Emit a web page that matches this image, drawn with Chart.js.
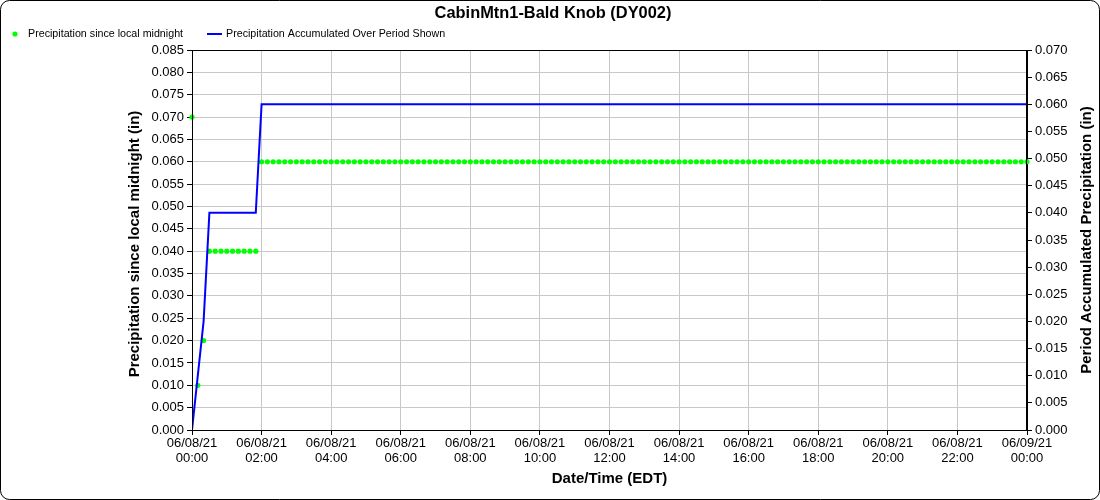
<!DOCTYPE html>
<html>
<head>
<meta charset="utf-8">
<script src="https://cdn.jsdelivr.net/npm/chart.js@4.4.0/dist/chart.umd.min.js"></script>
<style>
  body { margin: 0; background: #fff; }
  canvas { display: block; }
</style>
</head>
<body>
<canvas id="precipChart" width="1100" height="500"></canvas>
<script>
// minutes after 06/08/21 00:00 EDT, 10 minute readings
const minutes = [
    0,   10,   20,   30,   40,   50,   60,   70,   80,   90,  100,  110,
  120,  130,  140,  150,  160,  170,  180,  190,  200,  210,  220,  230,
  240,  250,  260,  270,  280,  290,  300,  310,  320,  330,  340,  350,
  360,  370,  380,  390,  400,  410,  420,  430,  440,  450,  460,  470,
  480,  490,  500,  510,  520,  530,  540,  550,  560,  570,  580,  590,
  600,  610,  620,  630,  640,  650,  660,  670,  680,  690,  700,  710,
  720,  730,  740,  750,  760,  770,  780,  790,  800,  810,  820,  830,
  840,  850,  860,  870,  880,  890,  900,  910,  920,  930,  940,  950,
  960,  970,  980,  990, 1000, 1010, 1020, 1030, 1040, 1050, 1060, 1070,
 1080, 1090, 1100, 1110, 1120, 1130, 1140, 1150, 1160, 1170, 1180, 1190,
 1200, 1210, 1220, 1230, 1240, 1250, 1260, 1270, 1280, 1290, 1300, 1310,
 1320, 1330, 1340, 1350, 1360, 1370, 1380, 1390, 1400, 1410, 1420, 1430,
 1440
];

// Precipitation since local midnight (in)
const sinceMidnight = [
  0.07, 0.01, 0.02, 0.04, 0.04, 0.04, 0.04, 0.04, 0.04, 0.04, 0.04, 0.04,
  0.06, 0.06, 0.06, 0.06, 0.06, 0.06, 0.06, 0.06, 0.06, 0.06, 0.06, 0.06,
  0.06, 0.06, 0.06, 0.06, 0.06, 0.06, 0.06, 0.06, 0.06, 0.06, 0.06, 0.06,
  0.06, 0.06, 0.06, 0.06, 0.06, 0.06, 0.06, 0.06, 0.06, 0.06, 0.06, 0.06,
  0.06, 0.06, 0.06, 0.06, 0.06, 0.06, 0.06, 0.06, 0.06, 0.06, 0.06, 0.06,
  0.06, 0.06, 0.06, 0.06, 0.06, 0.06, 0.06, 0.06, 0.06, 0.06, 0.06, 0.06,
  0.06, 0.06, 0.06, 0.06, 0.06, 0.06, 0.06, 0.06, 0.06, 0.06, 0.06, 0.06,
  0.06, 0.06, 0.06, 0.06, 0.06, 0.06, 0.06, 0.06, 0.06, 0.06, 0.06, 0.06,
  0.06, 0.06, 0.06, 0.06, 0.06, 0.06, 0.06, 0.06, 0.06, 0.06, 0.06, 0.06,
  0.06, 0.06, 0.06, 0.06, 0.06, 0.06, 0.06, 0.06, 0.06, 0.06, 0.06, 0.06,
  0.06, 0.06, 0.06, 0.06, 0.06, 0.06, 0.06, 0.06, 0.06, 0.06, 0.06, 0.06,
  0.06, 0.06, 0.06, 0.06, 0.06, 0.06, 0.06, 0.06, 0.06, 0.06, 0.06, 0.06,
  0.06
];

// Precipitation accumulated over period shown (in)
const accumulated = [
  0.00, 0.01, 0.02, 0.04, 0.04, 0.04, 0.04, 0.04, 0.04, 0.04, 0.04, 0.04,
  0.06, 0.06, 0.06, 0.06, 0.06, 0.06, 0.06, 0.06, 0.06, 0.06, 0.06, 0.06,
  0.06, 0.06, 0.06, 0.06, 0.06, 0.06, 0.06, 0.06, 0.06, 0.06, 0.06, 0.06,
  0.06, 0.06, 0.06, 0.06, 0.06, 0.06, 0.06, 0.06, 0.06, 0.06, 0.06, 0.06,
  0.06, 0.06, 0.06, 0.06, 0.06, 0.06, 0.06, 0.06, 0.06, 0.06, 0.06, 0.06,
  0.06, 0.06, 0.06, 0.06, 0.06, 0.06, 0.06, 0.06, 0.06, 0.06, 0.06, 0.06,
  0.06, 0.06, 0.06, 0.06, 0.06, 0.06, 0.06, 0.06, 0.06, 0.06, 0.06, 0.06,
  0.06, 0.06, 0.06, 0.06, 0.06, 0.06, 0.06, 0.06, 0.06, 0.06, 0.06, 0.06,
  0.06, 0.06, 0.06, 0.06, 0.06, 0.06, 0.06, 0.06, 0.06, 0.06, 0.06, 0.06,
  0.06, 0.06, 0.06, 0.06, 0.06, 0.06, 0.06, 0.06, 0.06, 0.06, 0.06, 0.06,
  0.06, 0.06, 0.06, 0.06, 0.06, 0.06, 0.06, 0.06, 0.06, 0.06, 0.06, 0.06,
  0.06, 0.06, 0.06, 0.06, 0.06, 0.06, 0.06, 0.06, 0.06, 0.06, 0.06, 0.06,
  0.06
];

// x tick labels, every 2 hours
const tickMinutes = [0, 120, 240, 360, 480, 600, 720, 840, 960, 1080, 1200, 1320, 1440];
const tickDates = ['06/08/21', '06/08/21', '06/08/21', '06/08/21', '06/08/21', '06/08/21', '06/08/21',
                   '06/08/21', '06/08/21', '06/08/21', '06/08/21', '06/08/21', '06/09/21'];
const tickTimes = ['00:00', '02:00', '04:00', '06:00', '08:00', '10:00', '12:00',
                   '14:00', '16:00', '18:00', '20:00', '22:00', '00:00'];

const chartTitle = 'CabinMtn1-Bald Knob (DY002)';
const legendLabels = ['Precipitation since local midnight', 'Precipitation Accumulated Over Period Shown'];
const axisTitles = {
    left: 'Precipitation since local midnight (in)',
    right: 'Period Accumulated Precipitation (in)',
    bottom: 'Date/Time (EDT)'
};

const FONT = "'Liberation Sans', Arial, sans-serif";
const GREEN = '#00ff00';
const BLUE = '#0000ff';
const GRID = '#c8c8c8';

// frame, title, legend and axis titles drawn by hand
const decorPlugin = {
    id: 'decor',
    beforeDraw(chart) {
        const c = chart.ctx;
        c.save();
        c.fillStyle = '#fff';
        c.fillRect(0, 0, chart.width, chart.height);
        c.restore();
    },
    afterDraw(chart) {
        const c = chart.ctx;
        const a = chart.chartArea;
        c.save();

        // plot frame
        c.strokeStyle = '#000';
        c.lineWidth = 1;
        c.strokeRect(Math.round(a.left) + 0.5, Math.round(a.top) + 0.5,
                     Math.round(a.right - a.left) - 1, Math.round(a.bottom - a.top));

        // outer rounded border
        c.beginPath();
        c.roundRect(0.5, 0.5, chart.width - 1, chart.height - 1, 9);
        c.stroke();

        // title
        c.fillStyle = '#000';
        c.textAlign = 'center';
        c.textBaseline = 'middle';
        c.font = 'bold 16.4px ' + FONT;
        c.fillText(chartTitle, 553, 13);

        // legend
        c.font = '10.7px ' + FONT;
        c.textAlign = 'left';
        c.fillStyle = GREEN;
        c.beginPath();
        c.arc(15, 34, 2.6, 0, Math.PI * 2);
        c.fill();
        c.fillStyle = '#000';
        c.fillText(legendLabels[0], 28, 34);
        c.strokeStyle = BLUE;
        c.lineWidth = 2;
        c.beginPath();
        c.moveTo(207, 34);
        c.lineTo(222, 34);
        c.stroke();
        c.fillText(legendLabels[1], 226, 34);

        // axis titles
        const midY = (a.top + a.bottom) / 2;
        c.font = 'bold 15px ' + FONT;
        c.textAlign = 'center';
        c.save();
        c.translate(135, midY + 4);
        c.rotate(-Math.PI / 2);
        c.fillText(axisTitles.left, 0, 0);
        c.restore();
        c.save();
        c.translate(1087, midY);
        c.rotate(-Math.PI / 2);
        c.fillText(axisTitles.right, 0, 0);
        c.restore();
        c.fillText(axisTitles.bottom, (a.left + a.right) / 2, 479);

        c.restore();
    }
};

const ctx = document.getElementById('precipChart');
new Chart(ctx.getContext('2d'), {
    type: 'line',
    data: {
        datasets: [
            {
                label: legendLabels[1],
                data: minutes.map((m, i) => ({ x: m, y: accumulated[i] })),
                yAxisID: 'yRight',
                borderColor: BLUE,
                borderWidth: 2,
                pointRadius: 0,
                tension: 0,
                order: 0
            },
            {
                label: legendLabels[0],
                data: minutes.map((m, i) => ({ x: m, y: sinceMidnight[i] })),
                yAxisID: 'yLeft',
                showLine: false,
                pointRadius: 2.6,
                pointBorderWidth: 0,
                pointBackgroundColor: GREEN,
                pointBorderColor: GREEN,
                clip: false,
                order: 1
            }
        ]
    },
    options: {
        responsive: false,
        animation: false,
        layout: { padding: { top: 50, left: 0, right: 0, bottom: 0 } },
        plugins: {
            legend: { display: false },
            title: { display: false },
            tooltip: { enabled: false }
        },
        scales: {
            x: {
                type: 'linear',
                min: 0,
                max: 1440,
                afterBuildTicks(scale) {
                    scale.ticks = tickMinutes.map(v => ({ value: v }));
                },
                afterFit(scale) { scale.height = 70; },
                ticks: {
                    autoSkip: false,
                    maxRotation: 0,
                    padding: 1,
                    color: '#000',
                    font: { family: FONT, size: 13, lineHeight: 1.15 },
                    callback(value) {
                        const i = tickMinutes.indexOf(value);
                        return i < 0 ? '' : [tickDates[i], tickTimes[i]];
                    }
                },
                grid: { color: GRID, tickColor: '#000', tickLength: 5 },
                border: { color: '#000', width: 1 }
            },
            yLeft: {
                position: 'left',
                min: 0,
                max: 0.085,
                afterFit(scale) { scale.width = 192; },
                ticks: {
                    stepSize: 0.005,
                    padding: 3,
                    color: '#000',
                    font: { family: FONT, size: 13 },
                    callback: v => v.toFixed(3)
                },
                grid: { color: GRID, tickColor: '#000', tickLength: 5 },
                border: { color: '#000', width: 1 }
            },
            yRight: {
                position: 'right',
                min: 0,
                max: 0.07,
                afterFit(scale) { scale.width = 73; },
                ticks: {
                    stepSize: 0.005,
                    padding: 3,
                    color: '#000',
                    font: { family: FONT, size: 13 },
                    callback: v => v.toFixed(3)
                },
                grid: { drawOnChartArea: false, tickColor: '#000', tickLength: 5 },
                border: { color: '#000', width: 1 }
            }
        }
    },
    plugins: [decorPlugin]
});
</script>
</body>
</html>
